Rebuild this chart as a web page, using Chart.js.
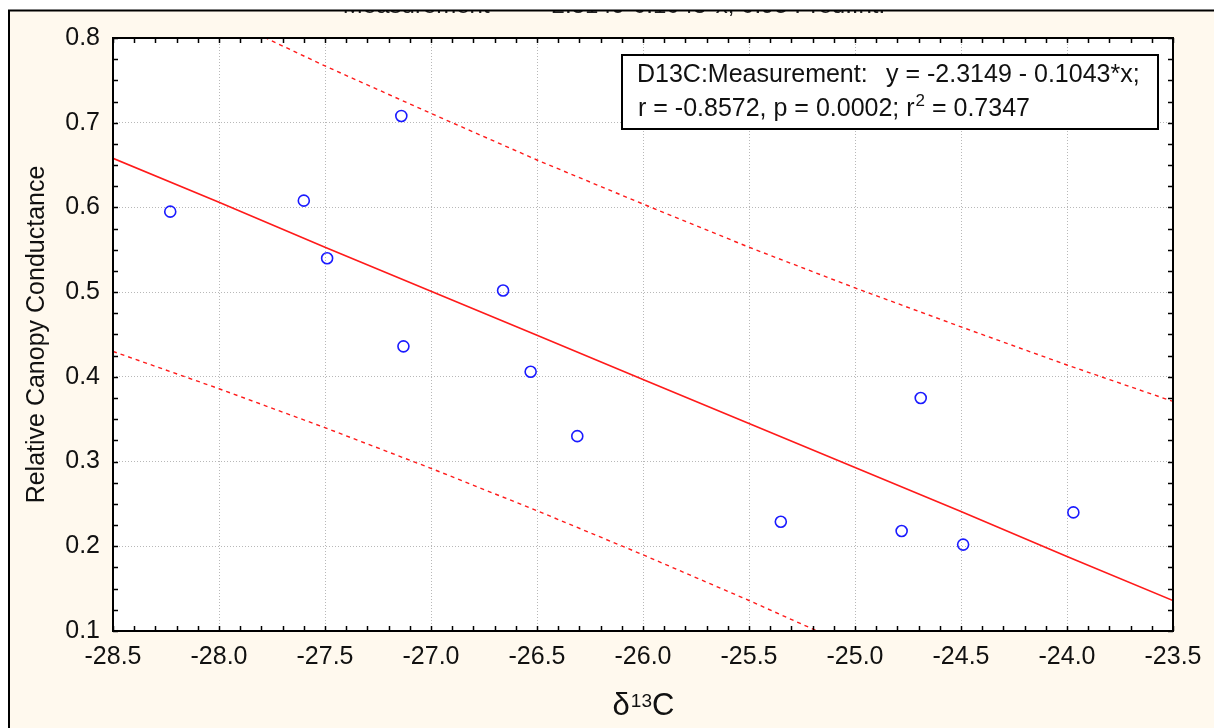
<!DOCTYPE html>
<html>
<head>
<meta charset="utf-8">
<title>D13C vs Relative Canopy Conductance</title>
<script src="https://cdn.jsdelivr.net/npm/chart.js@4.4.1/dist/chart.umd.min.js"></script>
<style>
    html, body { margin: 0; padding: 0; background: #ffffff; }
    #chart { display: block; }
</style>
</head>
<body>
<canvas id="chart" width="1214" height="728"></canvas>
<script>
// Measured points (delta 13C vs relative canopy conductance)
const d13c = [-28.23, -27.60, -27.49, -27.14, -27.13, -26.66, -26.53, -26.31, -25.35, -24.78, -24.69, -24.49, -23.97];
const conductance = [0.595, 0.608, 0.540, 0.708, 0.436, 0.502, 0.406, 0.330, 0.229, 0.218, 0.375, 0.202, 0.240];

// Fit line and 0.95 prediction band, read at each half unit of x
const bandX = [-28.5, -28.0, -27.5, -27.0, -26.5, -26.0, -25.5, -25.0, -24.5, -24.0, -23.5];
const fitY = [0.658, 0.606, 0.553, 0.501, 0.449, 0.397, 0.345, 0.293, 0.241, 0.188, 0.136];
const upperY = [0.886, 0.826, 0.767, 0.711, 0.656, 0.604, 0.553, 0.505, 0.459, 0.414, 0.371];
const lowerY = [0.430, 0.386, 0.340, 0.292, 0.242, 0.190, 0.136, 0.080, 0.022, -0.037, -0.099];

// Axis ticks
const xTicks = [-28.5, -28.0, -27.5, -27.0, -26.5, -26.0, -25.5, -25.0, -24.5, -24.0, -23.5];
const yTicks = [0.1, 0.2, 0.3, 0.4, 0.5, 0.6, 0.7, 0.8];
const xMinorStep = 0.1;
const yMinorStep = 0.025;

const CREAM = '#fff9ee';
const RED = '#ff1a1a';
const FONT = '"Liberation Sans", Arial, sans-serif';

function toPoints(xs, ys) {
    return xs.map((x, i) => ({ x: x, y: ys[i] }));
}

// Background, frame and the clipped title at the top
const backgroundPlugin = {
    id: 'background',
    beforeDraw(chart) {
        const ctx = chart.ctx;
        const area = chart.chartArea;
        ctx.save();
        ctx.fillStyle = CREAM;
        ctx.fillRect(0, 0, chart.width, chart.height);

        // title mostly hidden behind the window edge
        ctx.fillStyle = '#222';
        ctx.font = '24px ' + FONT;
        ctx.textAlign = 'center';
        ctx.textBaseline = 'alphabetic';
        ctx.fillText('Measurement    =  -2.3149-0.1043*x; 0.95 Pred.Int.', 614, 13);

        ctx.fillStyle = '#ffffff';
        ctx.fillRect(0, 0, chart.width, 10);
        ctx.fillRect(0, 0, 9, chart.height);

        ctx.strokeStyle = '#000';
        ctx.lineWidth = 2;
        ctx.beginPath();
        ctx.moveTo(9, chart.height);
        ctx.lineTo(9, 10.5);
        ctx.lineTo(chart.width, 10.5);
        ctx.stroke();

        ctx.fillStyle = '#ffffff';
        ctx.fillRect(area.left, area.top, area.right - area.left, area.bottom - area.top);
        ctx.restore();
    }
};

// Box around plot with inward major and minor ticks on every side
const framePlugin = {
    id: 'frame',
    afterDatasetsDraw(chart) {
        const ctx = chart.ctx;
        const area = chart.chartArea;
        const xs = chart.scales.x;
        const ys = chart.scales.y;
        const len = 5;
        ctx.save();
        ctx.strokeStyle = '#000';
        ctx.lineWidth = 1.5;
        ctx.beginPath();
        for (let i = 0; i <= Math.round((xs.max - xs.min) / xMinorStep); i++) {
            const px = Math.round(xs.getPixelForValue(xs.min + i * xMinorStep)) + 0.5;
            ctx.moveTo(px, area.bottom);
            ctx.lineTo(px, area.bottom - len);
            ctx.moveTo(px, area.top);
            ctx.lineTo(px, area.top + len);
        }
        for (let i = 0; i <= Math.round((ys.max - ys.min) / yMinorStep); i++) {
            const py = Math.round(ys.getPixelForValue(ys.min + i * yMinorStep)) + 0.5;
            ctx.moveTo(area.left, py);
            ctx.lineTo(area.left + len, py);
            ctx.moveTo(area.right, py);
            ctx.lineTo(area.right - len, py);
        }
        ctx.stroke();

        ctx.lineWidth = 2;
        ctx.strokeRect(area.left, area.top, area.right - area.left, area.bottom - area.top);
        ctx.restore();
    }
};

// Regression text box and the x axis title with its superscript
const textPlugin = {
    id: 'texts',
    afterDraw(chart) {
        const ctx = chart.ctx;
        const area = chart.chartArea;
        ctx.save();
        ctx.fillStyle = '#ffffff';
        ctx.fillRect(622, 55, 536, 74);
        ctx.strokeStyle = '#000';
        ctx.lineWidth = 2;
        ctx.strokeRect(622, 55, 536, 74);

        ctx.fillStyle = '#111';
        ctx.textAlign = 'left';
        ctx.textBaseline = 'alphabetic';
        ctx.font = '25px ' + FONT;
        ctx.fillText('D13C:Measurement:', 637, 82);
        ctx.fillText('y = -2.3149 - 0.1043*x;', 886, 82);

        let x = 638;
        const part1 = 'r = -0.8572, p = 0.0002; r';
        ctx.fillText(part1, x, 116);
        x += ctx.measureText(part1).width + 1;
        ctx.font = '17px ' + FONT;
        ctx.fillText('2', x, 106);
        x += ctx.measureText('2').width;
        ctx.font = '25px ' + FONT;
        ctx.fillText(' = 0.7347', x, 116);

        // x axis title: delta 13 C
        const big = '31px ' + FONT;
        const small = '19px ' + FONT;
        ctx.font = big;
        const wd = ctx.measureText('δ').width;
        const wc = ctx.measureText('C').width;
        ctx.font = small;
        const ws = ctx.measureText('13').width;
        let tx = (area.left + area.right) / 2 - (wd + ws + wc) / 2;
        ctx.font = big;
        ctx.fillText('δ', tx, 715);
        tx += wd + 1;
        ctx.font = small;
        ctx.fillText('13', tx, 707);
        tx += ws;
        ctx.font = big;
        ctx.fillText('C', tx, 715);
        ctx.restore();
    }
};

const ctx = document.getElementById('chart');

new Chart(ctx, {
    type: 'scatter',
    data: {
        datasets: [
            {
                label: 'D13C:Measurement',
                data: toPoints(d13c, conductance),
                pointStyle: 'circle',
                pointRadius: 5.5,
                pointBorderWidth: 1.6,
                pointBorderColor: '#1a1aff',
                pointBackgroundColor: 'rgba(0,0,0,0)',
                order: 0
            },
            {
                label: 'Fit',
                data: toPoints(bandX, fitY),
                showLine: true,
                borderColor: RED,
                borderWidth: 1.6,
                pointRadius: 0,
                order: 1
            },
            {
                label: 'Upper 0.95',
                data: toPoints(bandX, upperY),
                showLine: true,
                borderColor: RED,
                borderWidth: 1.4,
                borderDash: [4, 4],
                pointRadius: 0,
                order: 2
            },
            {
                label: 'Lower 0.95',
                data: toPoints(bandX, lowerY),
                showLine: true,
                borderColor: RED,
                borderWidth: 1.4,
                borderDash: [4, 4],
                pointRadius: 0,
                order: 3
            }
        ]
    },
    options: {
        responsive: false,
        animation: false,
        devicePixelRatio: 1,
        layout: {
            padding: { left: 0, top: 38, right: 41, bottom: 0 }
        },
        plugins: {
            legend: { display: false },
            tooltip: { enabled: false }
        },
        scales: {
            x: {
                type: 'linear',
                min: -28.5,
                max: -23.5,
                afterBuildTicks: function(scale) {
                    scale.ticks = xTicks.map(v => ({ value: v }));
                },
                afterFit: function(scale) {
                    scale.height = 97;
                },
                ticks: {
                    padding: 11,
                    color: '#111',
                    font: { family: FONT, size: 25 },
                    maxRotation: 0,
                    callback: v => v.toFixed(1)
                },
                grid: {
                    color: '#b8b8b8',
                    lineWidth: 1,
                    drawTicks: false
                },
                border: { display: false, dash: [1, 2] }
            },
            y: {
                type: 'linear',
                min: 0.1,
                max: 0.8,
                afterBuildTicks: function(scale) {
                    scale.ticks = yTicks.map(v => ({ value: v }));
                },
                afterFit: function(scale) {
                    scale.width = 113;
                },
                ticks: {
                    padding: 13,
                    color: '#111',
                    font: { family: FONT, size: 25 },
                    callback: v => v.toFixed(1)
                },
                grid: {
                    color: '#b8b8b8',
                    lineWidth: 1,
                    drawTicks: false
                },
                border: { display: false, dash: [1, 2] },
                title: {
                    display: true,
                    text: 'Relative Canopy Conductance',
                    color: '#111',
                    font: { family: FONT, size: 25 },
                    padding: { top: 22, bottom: 0 }
                }
            }
        }
    },
    plugins: [backgroundPlugin, framePlugin, textPlugin]
});
</script>
</body>
</html>
